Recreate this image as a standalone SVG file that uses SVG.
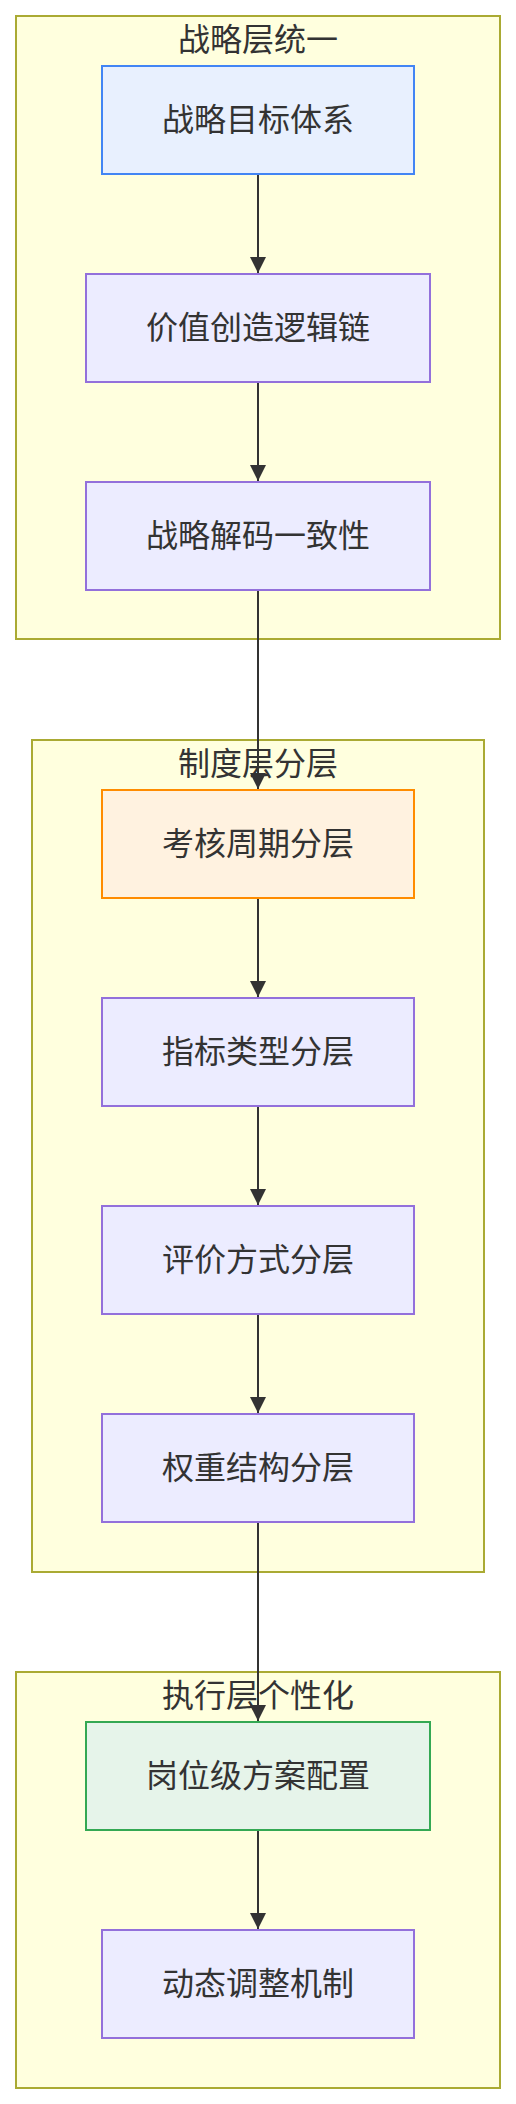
<svg xmlns="http://www.w3.org/2000/svg" width="516" height="2104" viewBox="0 0 516 2104">
<style>
.cluster{fill:#ffffde;stroke:#aaaa33;stroke-width:2}
.node{fill:#ececff;stroke:#9370db;stroke-width:2}
.blue{fill:#e8f0fe;stroke:#4285f4}
.orange{fill:#fff2e0;stroke:#ff8c00}
.green{fill:#e6f4ea;stroke:#34a853}
.edge{stroke:#333333;stroke-width:2;fill:none}
text{font-family:"Liberation Sans","Noto Sans CJK SC",sans-serif;font-size:32px;fill:#333333;text-anchor:middle;dominant-baseline:central}
</style>
<defs>
<marker id="arrow" viewBox="0 0 10 10" refX="10" refY="5" markerUnits="userSpaceOnUse" markerWidth="16" markerHeight="16" orient="auto">
<path d="M0,0 L10,5 L0,10 z" fill="#333333"/>
</marker>
</defs>
<rect width="516" height="2104" fill="#ffffff"/>
<g id="cluster-strategy">
<rect class="cluster" x="16" y="16" width="484" height="623"/>
<text x="258" y="40">战略层统一</text>
</g>
<g id="cluster-system">
<rect class="cluster" x="32" y="740" width="452" height="832"/>
<text x="258" y="764">制度层分层</text>
</g>
<g id="cluster-exec">
<rect class="cluster" x="16" y="1672" width="484" height="416"/>
<text x="258" y="1696">执行层个性化</text>
</g>
<g id="edges">
<line class="edge" x1="258" y1="174" x2="258" y2="273" marker-end="url(#arrow)"/>
<line class="edge" x1="258" y1="382" x2="258" y2="481" marker-end="url(#arrow)"/>
<line class="edge" x1="258" y1="590" x2="258" y2="789" marker-end="url(#arrow)"/>
<line class="edge" x1="258" y1="898" x2="258" y2="997" marker-end="url(#arrow)"/>
<line class="edge" x1="258" y1="1106" x2="258" y2="1205" marker-end="url(#arrow)"/>
<line class="edge" x1="258" y1="1314" x2="258" y2="1413" marker-end="url(#arrow)"/>
<line class="edge" x1="258" y1="1522" x2="258" y2="1721" marker-end="url(#arrow)"/>
<line class="edge" x1="258" y1="1830" x2="258" y2="1929" marker-end="url(#arrow)"/>
</g>
<g id="n1"><rect class="node blue" x="102" y="66" width="312" height="108"/><text x="258" y="120">战略目标体系</text></g>
<g id="n2"><rect class="node" x="86" y="274" width="344" height="108"/><text x="258" y="328">价值创造逻辑链</text></g>
<g id="n3"><rect class="node" x="86" y="482" width="344" height="108"/><text x="258" y="536">战略解码一致性</text></g>
<g id="n4"><rect class="node orange" x="102" y="790" width="312" height="108"/><text x="258" y="844">考核周期分层</text></g>
<g id="n5"><rect class="node" x="102" y="998" width="312" height="108"/><text x="258" y="1052">指标类型分层</text></g>
<g id="n6"><rect class="node" x="102" y="1206" width="312" height="108"/><text x="258" y="1260">评价方式分层</text></g>
<g id="n7"><rect class="node" x="102" y="1414" width="312" height="108"/><text x="258" y="1468">权重结构分层</text></g>
<g id="n8"><rect class="node green" x="86" y="1722" width="344" height="108"/><text x="258" y="1776">岗位级方案配置</text></g>
<g id="n9"><rect class="node" x="102" y="1930" width="312" height="108"/><text x="258" y="1984">动态调整机制</text></g>
</svg>
